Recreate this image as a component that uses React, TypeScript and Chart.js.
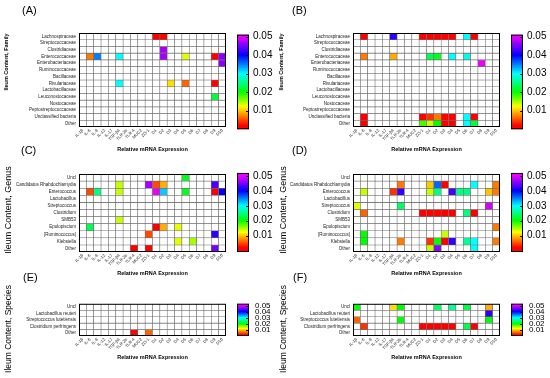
import React, { useEffect, useRef } from "react";
import { Chart, registerables } from "chart.js";
Chart.register(...registerables);

const FONT = "'Liberation Sans', Arial, sans-serif";

const xLabels = ["IL-1β", "IL-6", "IL-8", "IL-12", "IL-17", "TGF-β4", "TLR-2b", "TLR-4", "MUC2", "ZO-1",
  "D1", "D2", "D3", "D4", "D5", "D6", "D7", "D8", "D9", "D10"];

const familyRows = ["Lachnospiraceae", "Streptococcaceae", "Clostridiaceae", "Enterococcaceae", "Enterobacteriaceae",
  "Ruminococcaceae", "Bacillaceae", "Rivulariaceae", "Lactobacillaceae", "Leuconostocaceae", "Nostocaceae",
  "Peptostreptococcaceae", "Unclassified bacteria", "Other"];
const genusRows = ["Uncl", "Candidatus Rhabdochlamydia", "Enterococcus", "Lactobacillus", "Streptococcus",
  "Clostridium", "SMB53", "Epulopiscium", "[Ruminococcus]", "Klebsiella", "Other"];
const speciesRows = ["Uncl", "Lactobacillus reuteri", "Streptococcus lutetiensis", "Clostridium perfringens", "Other"];

const colorbarTicks = [0.01, 0.02, 0.03, 0.04, 0.05];

// [rowIndex, columnIndex, value]
const cellsA = [
  [0, 10, 0.001], [0, 11, 0.001],
  [2, 11, 0.047],
  [3, 1, 0.007], [3, 2, 0.035], [3, 5, 0.03], [3, 11, 0.047], [3, 14, 0.013], [3, 18, 0.001], [3, 19, 0.046],
  [4, 19, 0.046],
  [7, 5, 0.03], [7, 12, 0.011], [7, 14, 0.006], [7, 18, 0.001],
  [9, 18, 0.022],
];
const cellsB = [
  [0, 1, 0.001], [0, 5, 0.042], [0, 9, 0.002], [0, 10, 0.001], [0, 11, 0.001], [0, 12, 0.001], [0, 13, 0.001], [0, 15, 0.03], [0, 16, 0.001],
  [3, 1, 0.007], [3, 5, 0.009], [3, 10, 0.023], [3, 11, 0.021], [3, 13, 0.03], [3, 15, 0.029],
  [4, 17, 0.05],
  [12, 1, 0.001], [12, 9, 0.001], [12, 10, 0.004], [12, 11, 0.007], [12, 12, 0.001], [12, 13, 0.001], [12, 15, 0.03], [12, 16, 0.001],
  [13, 1, 0.001], [13, 9, 0.018], [13, 10, 0.014], [13, 11, 0.02], [13, 12, 0.002], [13, 13, 0.001], [13, 15, 0.03], [13, 16, 0.022],
];
const cellsC = [
  [0, 14, 0.021],
  [1, 5, 0.014], [1, 9, 0.047], [1, 10, 0.005], [1, 11, 0.009], [1, 18, 0.043],
  [2, 1, 0.005], [2, 2, 0.025], [2, 5, 0.014], [2, 10, 0.05], [2, 11, 0.032], [2, 14, 0.021], [2, 18, 0.002], [2, 19, 0.04],
  [6, 5, 0.014],
  [7, 1, 0.023], [7, 10, 0.001], [7, 11, 0.009], [7, 13, 0.013],
  [8, 9, 0.005], [8, 18, 0.042],
  [9, 13, 0.013], [9, 15, 0.015],
  [10, 7, 0.001], [10, 9, 0.001], [10, 18, 0.045],
];
const cellsD = [
  [1, 6, 0.007], [1, 10, 0.01], [1, 11, 0.036], [1, 12, 0.001], [1, 16, 0.03], [1, 19, 0.007],
  [2, 1, 0.014], [2, 5, 0.004], [2, 6, 0.042], [2, 10, 0.014], [2, 11, 0.025], [2, 13, 0.043], [2, 14, 0.025], [2, 15, 0.025], [2, 18, 0.01], [2, 19, 0.007],
  [4, 0, 0.013], [4, 6, 0.024], [4, 18, 0.049],
  [5, 1, 0.006], [5, 9, 0.002], [5, 10, 0.001], [5, 11, 0.001], [5, 12, 0.001], [5, 13, 0.002], [5, 15, 0.025], [5, 16, 0.002],
  [7, 19, 0.007],
  [8, 1, 0.02], [8, 12, 0.014],
  [9, 1, 0.02], [9, 6, 0.007], [9, 10, 0.004], [9, 11, 0.02], [9, 12, 0.001], [9, 13, 0.042], [9, 15, 0.026], [9, 16, 0.03], [9, 19, 0.007],
  [10, 10, 0.014], [10, 11, 0.046], [10, 16, 0.03],
];
const cellsE = [
  [4, 7, 0.001], [4, 9, 0.006],
];
const cellsF = [
  [0, 0, 0.02], [0, 5, 0.011], [0, 6, 0.02], [0, 11, 0.024], [0, 13, 0.026], [0, 15, 0.023], [0, 18, 0.009],
  [1, 18, 0.042],
  [2, 0, 0.006], [2, 6, 0.02], [2, 18, 0.02],
  [3, 1, 0.004], [3, 9, 0.001], [3, 10, 0.001], [3, 11, 0.001], [3, 12, 0.001], [3, 13, 0.001], [3, 15, 0.023], [3, 16, 0.001],
];

const hueStops = [[0, 0], [0.002, 0], [0.012, 58], [0.02, 120], [0.03, 180], [0.04, 240], [0.05, 295]];
function colorFor(v: number) {
  const x = Math.max(0, Math.min(0.05, v));
  let h = 0;
  for (let i = 1; i < hueStops.length; i++) {
    const [v0, h0] = hueStops[i - 1];
    const [v1, h1] = hueStops[i];
    if (x <= v1) { h = h0 + (h1 - h0) * ((x - v0) / (v1 - v0 || 1)); break; }
    h = h1;
  }
  return `hsl(${h.toFixed(1)},100%,50%)`;
}

const colorbarPlugin = {
  id: "colorbar",
  afterDraw(chart: any, _args: any, opts: any) {
    const s = chart.scales.y2;
    const ctx = chart.ctx;
    const area = chart.chartArea;
    ctx.save();
    ctx.strokeStyle = "#000";
    ctx.lineWidth = 1;
    ctx.strokeRect(area.left + 0.5, area.top + 0.5, area.right - area.left - 1, area.bottom - area.top - 1);
    if (!s) { ctx.restore(); return; }
    const x0 = s.left + opts.gap;
    const w = opts.width;
    const yTop = s.getPixelForValue(opts.max);
    const yBot = s.getPixelForValue(opts.min);
    const g = ctx.createLinearGradient(0, yBot, 0, yTop);
    const n = 60;
    for (let i = 0; i <= n; i++) {
      const v = opts.min + (opts.max - opts.min) * (i / n);
      g.addColorStop(i / n, colorFor(v));
    }
    ctx.fillStyle = g;
    ctx.fillRect(x0, yTop, w, yBot - yTop);
    ctx.strokeStyle = "#000";
    ctx.lineWidth = 1;
    ctx.strokeRect(x0 + 0.5, yTop + 0.5, w - 1, yBot - yTop - 1);
    ctx.beginPath();
    for (const t of colorbarTicks) {
      const y = Math.round(s.getPixelForValue(t)) + 0.5;
      ctx.moveTo(x0 + w - 3, y);
      ctx.lineTo(x0 + w, y);
    }
    ctx.stroke();
    ctx.restore();
  },
};

type PanelCfg = {
  left: number; top: number; width: number; height: number;
  rows: string[]; cells: number[][];
  padTop: number; yW: number; y2W: number; xH: number; titlePad: number;
  y2Min: number; y2Max: number; cbMin: number; cbMax: number; cbFont: number; cbPad: number;
};

function Panel({ cfg }: { cfg: PanelCfg }) {
  const ref = useRef<HTMLCanvasElement>(null);
  useEffect(() => {
    const rows = cfg.rows;
    const lookup = new Map<string, number>();
    cfg.cells.forEach(([r, c, v]) => lookup.set(r + "," + c, v));
    const datasets = rows.map((_, r) => ({
      label: rows[r],
      data: xLabels.map(() => [r - 0.5, r + 0.5]),
      backgroundColor: xLabels.map((_, c) => {
        const v = lookup.get(r + "," + c);
        return v === undefined ? "#ffffff" : colorFor(v);
      }),
      borderColor: "#6e6e6e",
      borderWidth: 0.6,
      borderSkipped: false,
      grouped: false,
      barPercentage: 1,
      categoryPercentage: 1,
    }));
    const chart = new Chart(ref.current as HTMLCanvasElement, {
      type: "bar",
      data: { labels: xLabels, datasets } as any,
      plugins: [colorbarPlugin],
      options: {
        animation: false,
        responsive: false,
        maintainAspectRatio: false,
        layout: { padding: { top: cfg.padTop, left: 0, right: 0, bottom: 0 } },
        plugins: {
          legend: { display: false },
          tooltip: { enabled: false },
          colorbar: { min: cfg.cbMin, max: cfg.cbMax, gap: 11, width: 12 },
        } as any,
        scales: {
          x: {
            type: "category",
            offset: true,
            grid: { display: false, drawTicks: false },
            border: { display: false },
            ticks: {
              autoSkip: false, maxRotation: 45, minRotation: 45, padding: 1,
              font: { size: 4.2, family: FONT }, color: "#222",
            },
            title: {
              display: true, text: "Relative mRNA Expression", color: "#000",
              font: { size: 5.5, weight: "bold", family: FONT },
              padding: { top: 0, bottom: cfg.titlePad },
            },
            afterFit: (s: any) => { s.height = cfg.xH; },
          },
          y: {
            type: "linear",
            min: -0.5,
            max: rows.length - 0.5,
            reverse: true,
            afterBuildTicks: (s: any) => { s.ticks = rows.map((_, i) => ({ value: i })); },
            ticks: {
              autoSkip: false, padding: 3,
              callback: (v: any) => rows[Math.round(Number(v))],
              font: { size: 4.5, family: FONT }, color: "#222",
            },
            grid: { display: false, drawTicks: false },
            border: { display: false },
            afterFit: (s: any) => { s.width = cfg.yW; },
          },
          y2: {
            type: "linear",
            position: "right",
            min: cfg.y2Min,
            max: cfg.y2Max,
            afterBuildTicks: (s: any) => { s.ticks = colorbarTicks.map((v) => ({ value: v })); },
            ticks: {
              autoSkip: false, padding: cfg.cbPad,
              callback: (v: any) => Number(v).toFixed(2),
              font: { size: cfg.cbFont, family: FONT }, color: "#000",
            },
            grid: { display: false, drawTicks: false },
            border: { display: false },
            afterFit: (s: any) => { s.width = cfg.y2W; },
          },
        } as any,
      },
    });
    return () => chart.destroy();
  }, [cfg]);
  return (
    <canvas
      ref={ref}
      width={cfg.width}
      height={cfg.height}
      style={{ position: "absolute", left: cfg.left, top: cfg.top, width: cfg.width, height: cfg.height }}
    />
  );
}

const topRow = { top: 0, width: 275, height: 160, padTop: 25, yW: 79, y2W: 49, xH: 32, titlePad: 6.7,
  y2Min: 0.0012, y2Max: 0.052, cbMin: 0, cbMax: 0.0511, cbFont: 10, cbPad: 27 };
const midRow = { top: 140, width: 275, height: 145, padTop: 34, yW: 79, y2W: 49, xH: 30, titlePad: 5.7,
  y2Min: -0.001, y2Max: 0.0513, cbMin: -0.001, cbMax: 0.052, cbFont: 10, cbPad: 27 };
const botRow = { top: 270, width: 275, height: 100, padTop: 29, yW: 79, y2W: 49, xH: 34, titlePad: 9.7,
  y2Min: 0, y2Max: 0.0529, cbMin: 0, cbMax: 0.053, cbFont: 8, cbPad: 29 };

const panels: PanelCfg[] = [
  { ...topRow, left: 0, rows: familyRows, cells: cellsA },
  { ...topRow, left: 274, rows: familyRows, cells: cellsB },
  { ...midRow, left: 0, rows: genusRows, cells: cellsC },
  { ...midRow, left: 274, rows: genusRows, cells: cellsD },
  { ...botRow, left: 0, rows: speciesRows, cells: cellsE },
  { ...botRow, left: 274, rows: speciesRows, cells: cellsF },
];

const panelLabels = [
  { text: "(A)", left: 22, top: 3 },
  { text: "(B)", left: 292, top: 3 },
  { text: "(C)", left: 21, top: 143 },
  { text: "(D)", left: 292, top: 143 },
  { text: "(E)", left: 23, top: 270 },
  { text: "(F)", left: 293, top: 270 },
];

const yTitles = [
  { text: "Ileum Content, Family", cx: 7, cy: 62, size: 5.5, bold: true },
  { text: "Ileum Content, Family", cx: 282, cy: 62, size: 5.5, bold: true },
  { text: "Ileum Content, Genus", cx: 8, cy: 210, size: 9, bold: false },
  { text: "Ileum Content, Genus", cx: 283, cy: 210, size: 9, bold: false },
  { text: "Ileum Content, Species", cx: 8, cy: 329, size: 8.5, bold: false },
  { text: "Ileum Content, Species", cx: 283, cy: 329, size: 8.5, bold: false },
];

export default function App() {
  return (
    <div style={{ position: "fixed", left: 0, top: 0, width: 550, height: 378, background: "#fff", overflow: "hidden" }}>
      {panels.map((p, i) => <Panel key={i} cfg={p} />)}
      {panelLabels.map((l, i) => (
        <div key={"l" + i} style={{ position: "absolute", left: l.left, top: l.top, fontFamily: FONT, fontSize: 11, lineHeight: "14px", color: "#000" }}>
          {l.text}
        </div>
      ))}
      {yTitles.map((t, i) => (
        <div key={"t" + i} style={{
          position: "absolute", left: t.cx, top: t.cy, transform: "translate(-50%, -50%) rotate(-90deg)",
          whiteSpace: "nowrap", fontFamily: FONT, fontSize: t.size, fontWeight: t.bold ? "bold" : "normal",
          color: "#000", lineHeight: 1,
        }}>
          {t.text}
        </div>
      ))}
    </div>
  );
}
